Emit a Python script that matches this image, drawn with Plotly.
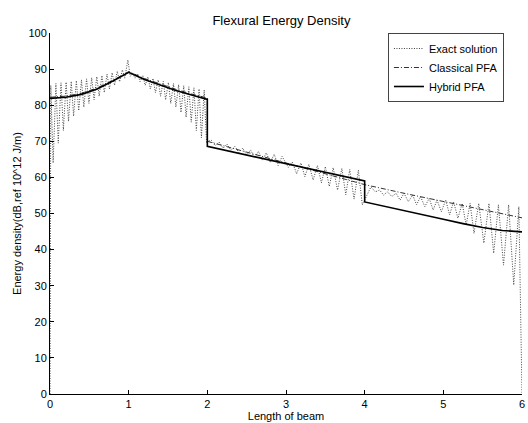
import plotly.graph_objects as go

# ---------------- data ----------------
exact_x = [0.0, 0.01, 0.04, 0.075, 0.105, 0.14, 0.17, 0.205, 0.235, 0.27, 0.30,
           0.335, 0.365, 0.40, 0.43, 0.465, 0.495, 0.53, 0.56, 0.595, 0.625,
           0.66, 0.69, 0.725, 0.755, 0.79, 0.82, 0.855, 0.885, 0.92, 0.95,
           0.99, 1.02, 1.05, 1.08, 1.115, 1.145, 1.18, 1.21, 1.245, 1.275,
           1.31, 1.34, 1.375, 1.405, 1.44, 1.47, 1.505, 1.535, 1.57, 1.60,
           1.635, 1.665, 1.70, 1.73, 1.765, 1.795, 1.83, 1.86, 1.895, 1.925,
           1.96, 1.99, 2.0,
           2.05, 2.10, 2.15, 2.20, 2.25, 2.30, 2.35, 2.40, 2.45, 2.50, 2.55,
           2.60, 2.65, 2.70, 2.75, 2.80, 2.85, 2.90, 2.95,
           3.03, 3.08, 3.135, 3.19, 3.24, 3.29, 3.345, 3.40, 3.45, 3.50, 3.55,
           3.60, 3.655, 3.71, 3.76, 3.81, 3.865, 3.92, 3.97,
           4.08, 4.135, 4.19, 4.24, 4.29, 4.345, 4.40, 4.45, 4.50, 4.555,
           4.61, 4.66, 4.71, 4.765, 4.82, 4.87, 4.92, 4.975, 5.03, 5.08,
           5.13, 5.185, 5.24, 5.29, 5.34, 5.39, 5.45, 5.515, 5.58, 5.64,
           5.70, 5.765, 5.83, 5.895, 5.96, 6.0]
exact_y = [0.0, 85.5, 64.0, 86.0, 69.5, 86.2, 73.0, 86.4, 75.5, 86.6, 77.0,
           86.8, 78.5, 87.0, 79.5, 87.3, 80.5, 87.6, 81.5, 87.9, 82.5,
           88.2, 83.5, 88.6, 84.5, 89.0, 85.5, 89.4, 86.5, 89.8, 87.5,
           92.5, 88.0, 89.0, 87.5, 88.6, 86.5, 88.2, 85.5, 87.8, 84.5,
           87.4, 83.5, 87.0, 82.5, 86.6, 81.5, 86.3, 80.5, 86.0, 79.5,
           85.7, 78.0, 85.4, 76.7, 85.1, 75.3, 84.8, 73.0, 84.5, 71.0,
           84.2, 69.5, 70.0,
           70.3, 68.8, 69.8, 68.1, 69.2, 67.5, 68.6, 66.9, 68.1, 66.2, 67.6,
           65.5, 67.2, 64.8, 66.8, 64.1, 66.4, 63.3, 65.8,
           62.8, 64.3, 61.0, 64.0, 60.2, 63.6, 59.3, 63.3, 58.5, 63.0, 57.5,
           62.7, 56.5, 62.5, 55.2, 62.2, 54.0, 62.0, 52.4,
           57.4, 56.0, 56.5, 55.1, 56.0, 54.7, 55.6, 53.7, 55.6, 53.3,
           55.1, 52.4, 54.7, 51.9, 54.2, 51.0, 53.7, 50.5, 53.7, 49.6,
           53.3, 48.7, 52.8, 46.8, 52.8, 44.5, 52.8, 41.8, 52.8, 39.0,
           52.4, 35.7, 52.4, 30.2, 51.9, 0.0]

classical_x = [0.0, 0.2, 0.4, 0.6, 0.8, 1.0, 1.2, 1.4, 1.6, 1.8, 2.0,
               2.0, 2.5, 3.0, 3.5, 4.0, 4.5, 5.0, 5.5, 6.0]
classical_y = [82.2, 82.5, 83.3, 84.8, 86.9, 89.3, 87.4, 85.8, 84.4, 83.1, 82.0,
               70.0, 67.0, 64.1, 61.0, 58.0, 55.6, 53.3, 51.0, 48.8]

hybrid_x = [0.0, 0.2, 0.4, 0.6, 0.8, 1.0, 1.2, 1.4, 1.6, 1.8, 2.0,
            2.0, 2.5, 3.0, 3.5, 4.0, 4.0, 4.5, 5.0, 5.25, 5.5, 5.75, 6.0]
hybrid_y = [81.9, 82.2, 83.0, 84.5, 86.7, 89.1, 87.1, 85.5, 84.1, 82.8, 81.6,
            68.6, 66.2, 63.7, 61.3, 59.0, 53.2, 50.7, 48.4, 47.2, 46.1, 45.3, 44.9]

x_ticks = [0, 1, 2, 3, 4, 5, 6]
y_ticks = [0, 10, 20, 30, 40, 50, 60, 70, 80, 90, 100]

FONT = "Liberation Sans, Arial, sans-serif"

fig = go.Figure()
fig.add_trace(go.Scatter(x=exact_x, y=exact_y, mode="lines", name="Exact solution",
                         line=dict(color="#444444", width=1, dash="1px,1.5px")))
fig.add_trace(go.Scatter(x=classical_x, y=classical_y, mode="lines", name="Classical PFA",
                         line=dict(color="#333333", width=1, dash="5px,2px,1px,2px")))
fig.add_trace(go.Scatter(x=hybrid_x, y=hybrid_y, mode="lines", name="Hybrid PFA",
                         line=dict(color="#000000", width=1.6)))

fig.update_layout(
    width=528, height=423,
    margin=dict(l=50, r=3, t=33, b=29),
    paper_bgcolor="white", plot_bgcolor="white",
    font=dict(family=FONT, size=11, color="black"),
    title=dict(text="Flexural Energy Density", x=0.533, xanchor="center",
               y=1 - 20 / 423, yanchor="middle", yref="container",
               font=dict(family=FONT, size=13, color="black")),
    showlegend=True,
    legend=dict(x=0.716, y=1.0, xanchor="left", yanchor="top",
                bgcolor="white", bordercolor="#444444", borderwidth=1,
                font=dict(family=FONT, size=11, color="black"),
                tracegroupgap=0, itemwidth=30),
)
fig.update_xaxes(range=[0, 6], tickvals=x_ticks, ticktext=[str(v) for v in x_ticks],
                 ticks="inside", ticklen=4, tickcolor="black", tickwidth=1,
                 showline=True, linecolor="black", linewidth=1, showgrid=False,
                 zeroline=False, tickfont=dict(size=11), ticklabeloverflow="allow",
                 title=dict(text="Length of beam", font=dict(size=11), standoff=2))
fig.update_yaxes(range=[0, 100], tickvals=y_ticks, ticktext=[str(v) for v in y_ticks],
                 ticks="inside", ticklen=4, tickcolor="black", tickwidth=1,
                 showline=True, linecolor="black", linewidth=1, showgrid=False,
                 zeroline=False, tickfont=dict(size=11), ticklabeloverflow="allow",
                 title=dict(text="Energy density(dB,ref 10^12 J/m)", font=dict(size=11),
                            standoff=4))

fig.write_html("out.html")
